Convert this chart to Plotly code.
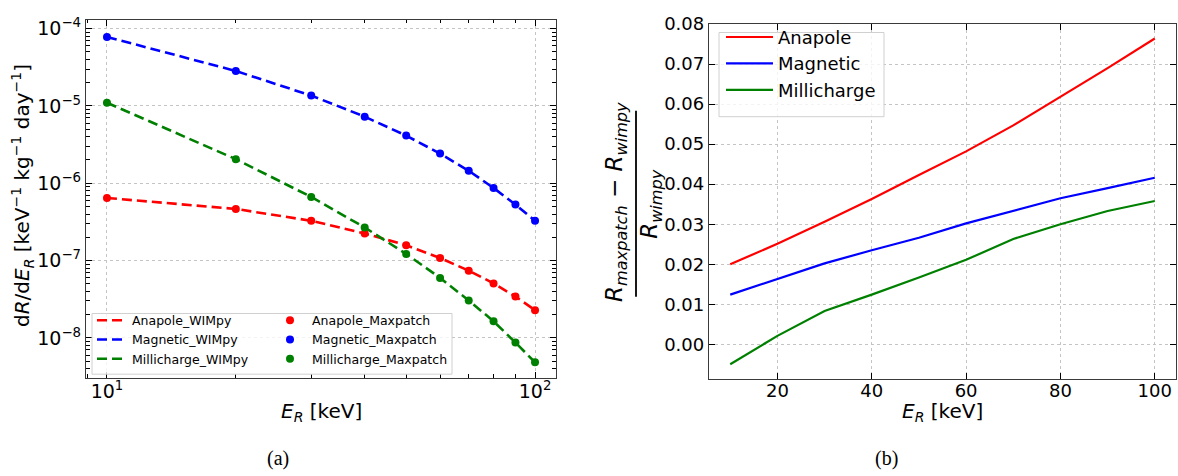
import plotly.graph_objects as go

W, H = 1178, 476

# ---------------- data ----------------
energy_kev = [10, 20, 30, 40, 50, 60, 70, 80, 90, 100]

# panel (a): differential rate dR/dE_R  [keV^-1 kg^-1 day^-1]
anapole_rate = [6.45e-7, 4.65e-7, 3.27e-7, 2.24e-7, 1.58e-7, 1.08e-7, 7.4e-8, 5.07e-8, 3.43e-8, 2.28e-8]
magnetic_rate = [7.8e-5, 2.83e-5, 1.36e-5, 7.26e-6, 4.13e-6, 2.42e-6, 1.45e-6, 8.7e-7, 5.3e-7, 3.27e-7]
millicharge_rate = [1.1e-5, 2.05e-6, 6.65e-7, 2.68e-7, 1.22e-7, 5.97e-8, 3.05e-8, 1.64e-8, 8.7e-9, 4.84e-9]

# panel (b): relative difference (R_maxpatch - R_wimpy)/R_wimpy
anapole_reldiff = [0.0200, 0.0251, 0.0306, 0.0363, 0.0423, 0.0482, 0.0547, 0.0618, 0.0690, 0.0764]
magnetic_reldiff = [0.0124, 0.0163, 0.0202, 0.0235, 0.0266, 0.0302, 0.0334, 0.0365, 0.0390, 0.0416]
millicharge_reldiff = [-0.0050, 0.0021, 0.0083, 0.0124, 0.0167, 0.0211, 0.0263, 0.0300, 0.0333, 0.0358]

models = ["Anapole", "Magnetic", "Millicharge"]
colors = ["red", "blue", "green"]

# tick labels
x_log_ticks = [10, 100]
x_log_ticktext = ["10<sup>1</sup>", "10<sup>2</sup>"]
y_log_ticks = [1e-8, 1e-7, 1e-6, 1e-5, 1e-4]
y_log_ticktext = ["10<sup>\u22128</sup>", "10<sup>\u22127</sup>", "10<sup>\u22126</sup>",
                  "10<sup>\u22125</sup>", "10<sup>\u22124</sup>"]
x_lin_ticks = [20, 40, 60, 80, 100]
y_lin_ticks = [0.00, 0.01, 0.02, 0.03, 0.04, 0.05, 0.06, 0.07, 0.08]

# minor tick positions (log axes)
x_minor = [m * 10 for m in range(2, 10)] + [9]
y_minor = [m * 10.0 ** e for e in range(-10, -3) for m in range(2, 10)]


def px(x):
    return x / W


def py(y):
    return 1 - y / H


fig = go.Figure()

rates = [anapole_rate, magnetic_rate, millicharge_rate]
for name, c, r in zip(models, colors, rates):
    fig.add_trace(go.Scatter(x=energy_kev, y=r, mode="lines", name=name + "_WIMpy",
                             line=dict(color=c, width=2.6, dash="10px,5px"),
                             xaxis="x", yaxis="y", legend="legend"))
for name, c, r in zip(models, colors, rates):
    fig.add_trace(go.Scatter(x=energy_kev, y=r, mode="markers", name=name + "_Maxpatch",
                             marker=dict(color=c, size=8),
                             xaxis="x", yaxis="y", legend="legend2"))

reldiffs = [anapole_reldiff, magnetic_reldiff, millicharge_reldiff]
for name, c, r in zip(models, colors, reldiffs):
    fig.add_trace(go.Scatter(x=energy_kev, y=r, mode="lines", name=name,
                             line=dict(color=c, width=2.2),
                             xaxis="x2", yaxis="y2", legend="legend3"))

axis_common = dict(
    showline=True, linecolor="#3a3a3a", linewidth=1.3, mirror="ticks",
    ticks="inside", tickcolor="black", ticklen=6, tickwidth=1,
    showgrid=True, gridcolor="#c4c4c4", gridwidth=1, griddash="dot",
    zeroline=False,
)

FONT = "DejaVu Sans"

fig.update_layout(
    width=W, height=H,
    margin=dict(l=0, r=0, t=0, b=0),
    paper_bgcolor="white", plot_bgcolor="white",
    font=dict(family=FONT, color="black"),
    showlegend=True,
    xaxis=dict(axis_common, type="log", domain=[px(86), px(556)], range=[0.951, 2.049],
               tickmode="array", tickvals=x_log_ticks, ticktext=x_log_ticktext,
               tickfont=dict(size=19, family=FONT), ticklabelstandoff=-4,
               minor=dict(tickmode="array", tickvals=x_minor, ticks="inside", ticklen=3.5,
                          tickcolor="black", showgrid=False),
               anchor="y"),
    yaxis=dict(axis_common, type="log", domain=[py(376), py(10)], range=[-8.52, -3.886],
               tickmode="array", tickvals=y_log_ticks, ticktext=y_log_ticktext,
               tickfont=dict(size=19, family=FONT),
               minor=dict(tickmode="array", tickvals=y_minor, ticks="inside", ticklen=3.5,
                          tickcolor="black", showgrid=False),
               anchor="x"),
    xaxis2=dict(axis_common, domain=[px(709), px(1176)], range=[5.5, 104.5],
                tickmode="array", tickvals=x_lin_ticks, ticklabelstandoff=-5,
                tickfont=dict(size=18, family=FONT), anchor="y2"),
    yaxis2=dict(axis_common, domain=[py(377), py(14)], range=[-0.0087, 0.0801],
                tickmode="array", tickvals=y_lin_ticks, tickformat=".2f",
                tickfont=dict(size=18, family=FONT), anchor="x2"),
    legend=dict(x=px(92), y=py(302), xanchor="left", yanchor="top",
                bgcolor="rgba(0,0,0,0)", borderwidth=0,
                font=dict(size=12.5, family=FONT), itemwidth=30, tracegroupgap=0),
    legend2=dict(x=px(268), y=py(302), xanchor="left", yanchor="top",
                 bgcolor="rgba(0,0,0,0)", borderwidth=0,
                 font=dict(size=12.5, family=FONT), itemwidth=34, tracegroupgap=0),
    legend3=dict(x=px(721), y=py(9), xanchor="left", yanchor="top",
                 bgcolor="rgba(0,0,0,0)", borderwidth=0,
                 font=dict(size=18, family=FONT), itemwidth=47, tracegroupgap=0),
)

shapes = [
    # legend frames
    dict(type="rect", xref="paper", yref="paper", x0=px(92), x1=px(452), y0=py(372), y1=py(310),
         fillcolor="rgba(255,255,255,0.8)", line=dict(color="#d0d0d0", width=1), layer="above"),
    dict(type="rect", xref="paper", yref="paper", x0=px(719), x1=px(884), y0=py(109), y1=py(23),
         fillcolor="rgba(255,255,255,0.8)", line=dict(color="#d0d0d0", width=1), layer="above"),
    # fraction bar of the right y-axis title
    dict(type="line", xref="paper", yref="paper", x0=px(636), x1=px(636), y0=py(293), y1=py(103),
         line=dict(color="black", width=1.8)),
]
fig.update_layout(shapes=shapes)

annotations = [
    dict(text="<i>E</i><sub><i>R</i></sub> [keV]", x=px(321), y=py(411), xref="paper", yref="paper",
         showarrow=False, font=dict(size=20, family=FONT), xanchor="center", yanchor="middle"),
    dict(text="d<i>R</i>/d<i>E</i><sub><i>R</i></sub> [keV<sup>\u22121</sup> kg<sup>\u22121</sup> day<sup>\u22121</sup>]",
         x=px(22), y=py(190), xref="paper", yref="paper", textangle=-90,
         showarrow=False, font=dict(size=20, family=FONT), xanchor="center", yanchor="middle"),
    dict(text="<i>E</i><sub><i>R</i></sub> [keV]", x=px(943), y=py(411), xref="paper", yref="paper",
         showarrow=False, font=dict(size=20, family=FONT), xanchor="center", yanchor="middle"),
    dict(text="<i>R</i><sub><i>maxpatch</i></sub> \u2212 <i>R</i><sub><i>wimpy</i></sub>",
         x=px(616), y=py(196), xref="paper", yref="paper", textangle=-90,
         showarrow=False, font=dict(size=23, family=FONT), xanchor="center", yanchor="middle"),
    dict(text="<i>R</i><sub><i>wimpy</i></sub>",
         x=px(651), y=py(198), xref="paper", yref="paper", textangle=-90,
         showarrow=False, font=dict(size=23, family=FONT), xanchor="center", yanchor="middle"),
    dict(text="(a)", x=px(278), y=py(458), xref="paper", yref="paper",
         showarrow=False, font=dict(size=20, family="Liberation Serif"), xanchor="center", yanchor="middle"),
    dict(text="(b)", x=px(886), y=py(458), xref="paper", yref="paper",
         showarrow=False, font=dict(size=20, family="Liberation Serif"), xanchor="center", yanchor="middle"),
]
fig.update_layout(annotations=annotations)

fig.write_html("out.html")
